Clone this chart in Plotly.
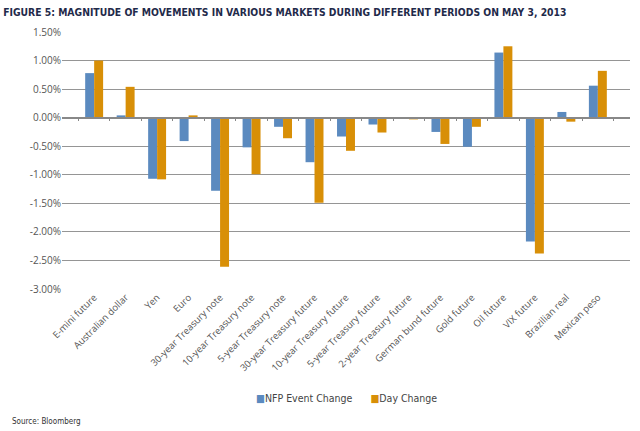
import plotly.graph_objects as go

markets = ["E-mini future", "Australian dollar", "Yen", "Euro",
           "30-year Treasury note", "10-year Treasury note", "5-year Treasury note",
           "30-year Treasury future", "10-year Treasury future", "5-year Treasury future",
           "2-year Treasury future", "German bund future", "Gold future", "Oil future",
           "VIX future", "Brazilian real", "Mexican peso"]

# values in percent
nfp_change = [0.78, 0.04, -1.07, -0.41, -1.28, -0.52, -0.16, -0.78, -0.33, -0.12,
              0.00, -0.25, -0.51, 1.14, -2.17, 0.10, 0.56]
day_change = [1.00, 0.54, -1.08, 0.04, -2.61, -0.99, -0.36, -1.49, -0.58, -0.26,
              -0.03, -0.46, -0.16, 1.25, -2.38, -0.07, 0.82]

y_ticks = [1.5, 1.0, 0.5, 0.0, -0.5, -1.0, -1.5, -2.0, -2.5, -3.0]

blue = "#5b8abf"
orange = "#d88f07"
txt_font = "Open Sans, Noto Sans, DejaVu Sans"
narrow_font = "DejaVu Sans Condensed, Liberation Sans Narrow, Arial Narrow"

fig = go.Figure()
fig.add_trace(go.Bar(x=markets, y=nfp_change, name="NFP Event Change",
                     marker=dict(color=blue, line=dict(width=0))))
fig.add_trace(go.Bar(x=markets, y=day_change, name="Day Change",
                     marker=dict(color=orange, line=dict(width=0))))
# invisible trace so the zero-line axis with boundary ticks has categories
fig.add_trace(go.Scatter(x=markets, y=[0] * len(markets), xaxis="x2", mode="markers",
                         marker=dict(opacity=0), showlegend=False, hoverinfo="skip"))

legend_text = (f"<span style='color:{blue}'>■</span>NFP Event Change"
               f"      <span style='color:{orange}'>■</span>Day Change")

fig.update_layout(
    width=640, height=431,
    margin=dict(l=62, r=10, t=32, b=142, autoexpand=False),
    paper_bgcolor="white", plot_bgcolor="white",
    barmode="group", bargap=0.43, bargroupgap=0,
    showlegend=False,
    title=dict(text="<b>FIGURE 5: MAGNITUDE OF MOVEMENTS IN VARIOUS MARKETS DURING DIFFERENT PERIODS ON MAY 3, 2013</b>",
               font=dict(family=narrow_font, size=10.3, color="#1f2a4a"),
               xref="container", x=0.005, xanchor="left", yref="container", y=0.972, yanchor="middle"),
    xaxis=dict(type="category", showline=False, ticks="", tickangle=-45,
               tickfont=dict(family=txt_font, size=9.5, color="#555555"), automargin=False),
    xaxis2=dict(type="category", overlaying="x", matches="x", anchor="free", position=2 / 3,
                showline=True, linecolor="#888888", linewidth=1.5, ticks="outside", ticklen=3,
                tickcolor="#888888", tickson="boundaries", showticklabels=False, showgrid=False),
    yaxis=dict(range=[-3.0, 1.5], tickvals=y_ticks, ticktext=[f"{v:.2f}%" for v in y_ticks],
               showgrid=True, gridcolor="#959595", gridwidth=1, zeroline=False,
               tickfont=dict(family=txt_font, size=10, color="#555555"), ticks="", automargin=False),
    annotations=[
        dict(text=legend_text, xref="paper", yref="paper", x=0.5, y=-0.425,
             xanchor="center", yanchor="middle", showarrow=False,
             font=dict(family=narrow_font, size=10.5, color="#444444")),
        dict(text="Source: Bloomberg", xref="paper", yref="paper", x=-0.092, y=-0.517,
             xanchor="left", yanchor="middle", showarrow=False,
             font=dict(family=narrow_font, size=8, color="#333333")),
    ],
)

fig.write_html("out.html", config={"displayModeBar": False},
               post_script="document.body.style.margin='0';")
